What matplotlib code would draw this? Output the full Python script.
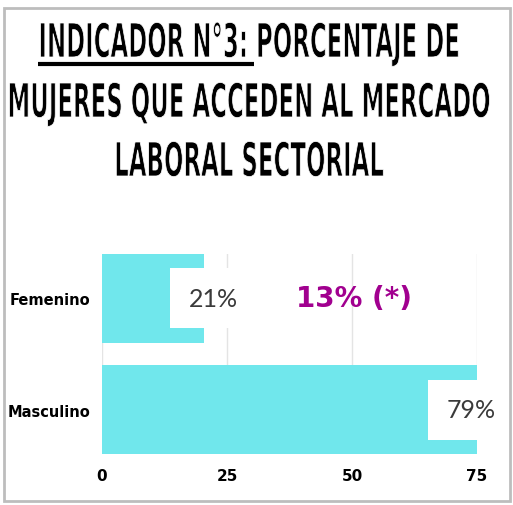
import matplotlib
matplotlib.use('Agg')
import matplotlib.pyplot as plt
from matplotlib.patches import Rectangle
from matplotlib.lines import Line2D
from matplotlib.patheffects import AbstractPathEffect
from matplotlib.transforms import Affine2D
from matplotlib.textpath import TextPath
from matplotlib.font_manager import FontProperties

# data
categories = ['Masculino', 'Femenino']
values = [79, 20.3]
value_labels = ['79%', '21%']
xticks = [0, 25, 50, 75]
note = '13% (*)'
title_lines = ['INDICADOR N°3: PORCENTAJE DE',
               'MUJERES QUE ACCEDEN AL MERCADO',
               'LABORAL SECTORIAL']
title_underlined = 'INDICADOR N°3:'

W, H = 513, 506
bar_color = '#70E7EC'
xmax = 75


class Stretch(AbstractPathEffect):
    # draw text glyphs stretched vertically (condensed poster look),
    # with a thin white outline to make the strokes a bit lighter
    def __init__(self, sy, thin=0.55):
        super().__init__()
        self.sy = sy
        self.thin = thin

    def draw_path(self, renderer, gc, tpath, affine, rgbFace=None):
        tr = Affine2D().scale(1, self.sy) + affine
        renderer.draw_path(gc, tpath, tr, rgbFace)
        gc0 = renderer.new_gc()
        gc0.copy_properties(gc)
        gc0.set_foreground('white')
        gc0.set_linewidth(self.thin)
        renderer.draw_path(gc0, tpath, tr, None)
        gc0.restore()


fig = plt.figure(figsize=(W / 100, H / 100), dpi=100)
fig.patch.set_facecolor('white')

# frame round the picture
fig.add_artist(Rectangle((4 / W, 4 / H), 506 / W, 493 / H, transform=fig.transFigure,
                         fill=False, ec='#bdbdbd', lw=2))

# title
title_family = ['Liberation Sans Narrow', 'DejaVu Sans']
fp = FontProperties(family=title_family, weight='bold', size=20)
renderer = fig.canvas.get_renderer()
probe = fig.text(0, 0, title_lines[1], fontproperties=fp)
w = probe.get_window_extent(renderer).width
probe.remove()
fs = 20 * 482 / w
fp = FontProperties(family=title_family, weight='bold', size=fs)
cap_px = TextPath((0, 0), 'H', size=fs * 100 / 72, prop=fp).get_extents().height
sy = 34 / cap_px

cx = 249 / W
baselines = [58, 118, 177]
title_texts = []
for line, b in zip(title_lines, baselines):
    t = fig.text(cx, 1 - b / H, line, fontproperties=fp, ha='center', va='baseline',
                 color='black', path_effects=[Stretch(sy)])
    title_texts.append(t)

# underline under "INDICADOR N°3:"
full_w = title_texts[0].get_window_extent(renderer).width
probe = fig.text(0, 0, title_underlined, fontproperties=fp)
part_w = probe.get_window_extent(renderer).width
probe.remove()
x0 = cx - full_w / 2 / W
x1 = x0 + part_w / W + 6 / W
fig.add_artist(Line2D([x0, x1], [1 - 64.5 / H] * 2, transform=fig.transFigure,
                      color='black', lw=3, solid_capstyle='butt'))

# bar chart
ax = fig.add_axes([102 / W, 1 - 455 / H, 375 / W, 200 / H])
ypos = list(range(len(categories)))
ax.barh(ypos, values, height=0.8, color=bar_color, zorder=2)
ax.set_xlim(0, xmax)
ax.set_ylim(-0.4, 1.4)
ax.set_xticks(xticks)
ax.set_xticklabels([str(v) for v in xticks], fontsize=11, fontweight='bold')
ax.set_yticks(ypos)
ax.set_yticklabels(categories, fontsize=10.5, fontweight='bold')
ax.tick_params(axis='both', length=0)
ax.tick_params(axis='x', pad=10)
ax.tick_params(axis='y', pad=8.5)
ax.grid(axis='x', color='#e4e4e4', lw=1, zorder=0)
ax.set_axisbelow(True)
for s in ax.spines.values():
    s.set_visible(False)

for y, v, lab in zip(ypos, values, value_labels):
    x = v + 2 if v < xmax else xmax - 1.2
    ax.text(x, y, lab, ha='center', va='center', fontsize=18, family=['Lato', 'DejaVu Sans'],
            color='#3a3a3a', zorder=3, clip_on=False,
            bbox=dict(boxstyle='square,pad=0.74', fc='white', ec='none'))

ax.text(50.4, 1, note, ha='center', va='center', fontsize=20, fontweight='bold',
        color='#A1008F', zorder=3)

fig.savefig('out.png', dpi=100, facecolor='white')
